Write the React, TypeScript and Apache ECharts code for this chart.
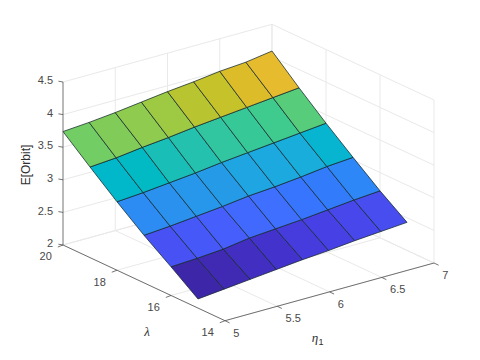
import React, { useEffect, useRef } from "react";
import * as echarts from "echarts";

// Data
const etaValues = [5, 5.25, 5.5, 5.75, 6, 6.25, 6.5, 6.75, 7];
const lambdaValues = [15, 16, 17, 18, 19, 20];
const orbitAtLambda15 = [2.14, 2.18, 2.22, 2.26, 2.3, 2.33, 2.37, 2.4, 2.43];
const orbitAtLambda16 = [2.44, 2.46, 2.49, 2.55, 2.58, 2.61, 2.65, 2.69, 2.72];
const orbitAtLambda17 = [2.73, 2.76, 2.8, 2.84, 2.89, 2.92, 2.96, 3.01, 3.04];
const orbitAtLambda18 = [3.05, 3.08, 3.12, 3.16, 3.21, 3.25, 3.29, 3.33, 3.37];
const orbitAtLambda19 = [3.39, 3.42, 3.47, 3.51, 3.56, 3.6, 3.64, 3.68, 3.72];
const orbitAtLambda20 = [3.74, 3.77, 3.81, 3.86, 3.91, 3.95, 4.0, 4.03, 4.09];
const orbitRows = [orbitAtLambda15, orbitAtLambda16, orbitAtLambda17, orbitAtLambda18, orbitAtLambda19, orbitAtLambda20];

const etaTicks = [5, 5.5, 6, 6.5, 7];
const etaTickLabels = ["5", "5.5", "6", "6.5", "7"];
const lambdaTicks = [14, 16, 18, 20];
const lambdaTickLabels = ["14", "16", "18", "20"];
const zTicks = [2, 2.5, 3, 3.5, 4, 4.5];
const zTickLabels = ["2", "2.5", "3", "3.5", "4", "4.5"];

// MATLAB parula colormap
const parula = [
  [0.2422,0.1504,0.6603],[0.2504,0.165,0.7076],[0.2578,0.1818,0.7511],[0.2647,0.1978,0.7952],
  [0.2706,0.2147,0.8364],[0.2751,0.2342,0.871],[0.2783,0.2559,0.8991],[0.2803,0.2782,0.9221],
  [0.2813,0.3006,0.9414],[0.281,0.3228,0.9579],[0.2795,0.3447,0.9717],[0.276,0.3667,0.9829],
  [0.2699,0.3892,0.9906],[0.2602,0.4123,0.9952],[0.244,0.4358,0.9988],[0.2206,0.4603,0.9973],
  [0.1963,0.4847,0.9892],[0.1834,0.5074,0.9798],[0.1786,0.5289,0.9682],[0.1764,0.5499,0.952],
  [0.1687,0.5703,0.9359],[0.154,0.5902,0.9218],[0.146,0.6091,0.9079],[0.138,0.6276,0.8973],
  [0.1248,0.6459,0.8883],[0.1113,0.6635,0.8763],[0.0952,0.6798,0.8598],[0.0689,0.6948,0.8394],
  [0.0297,0.7082,0.8163],[0.0036,0.7203,0.7917],[0.0067,0.7312,0.766],[0.0433,0.7411,0.7394],
  [0.0964,0.75,0.712],[0.1408,0.7584,0.6842],[0.1717,0.767,0.6554],[0.1938,0.7758,0.6251],
  [0.2161,0.7843,0.5923],[0.247,0.7918,0.5567],[0.2906,0.7973,0.5188],[0.3406,0.8008,0.4789],
  [0.3909,0.8029,0.4354],[0.4456,0.8024,0.3909],[0.5044,0.7993,0.348],[0.5616,0.7942,0.3045],
  [0.6174,0.7876,0.2612],[0.672,0.7793,0.2227],[0.7242,0.7698,0.191],[0.7738,0.7598,0.1646],
  [0.8203,0.7498,0.1535],[0.8634,0.7406,0.1596],[0.9035,0.733,0.1774],[0.9393,0.7288,0.21],
  [0.9728,0.7298,0.2394],[0.9956,0.7434,0.2371],[0.997,0.7659,0.2199],[0.9952,0.7893,0.2028],
  [0.9892,0.8136,0.1885],[0.9786,0.8386,0.1766],[0.9676,0.8639,0.1643],[0.961,0.889,0.1537],
  [0.9597,0.9135,0.1423],[0.9628,0.9373,0.1265],[0.9691,0.9606,0.1064],[0.9769,0.9839,0.0805],
];

const zMin = Math.min(...orbitRows.flat());
const zMax = Math.max(...orbitRows.flat());
const cmap = (z: number) => {
  const idx = Math.min(63, Math.floor(((z - zMin) / (zMax - zMin)) * 64));
  const [r, g, b] = parula[idx];
  return `rgb(${Math.round(r * 255)},${Math.round(g * 255)},${Math.round(b * 255)})`;
};

// Orthographic view of the 3D box onto the flat plane of the hidden axes
const project = (eta: number, lambda: number, z: number): [number, number] => [
  63 + ((eta - 5) / 2) * 209 + ((20 - lambda) / 6) * 162,
  245 - ((eta - 5) / 2) * 57.7 + ((20 - lambda) / 6) * 75.7 - (z - 2) * 65.2,
];

type P3 = [number, number, number];
const gridSegments: [P3, P3][] = [];
const axisSegments: [P3, P3][] = [
  [[5, 20, 2], [5, 20, 4.5]],
  [[5, 20, 2], [5, 14, 2]],
  [[5, 14, 2], [7, 14, 2]],
];
for (const z of zTicks) {
  gridSegments.push([[5, 20, z], [7, 20, z]], [[7, 20, z], [7, 14, z]]);
}
for (const e of etaTicks) {
  gridSegments.push([[e, 20, 2], [e, 14, 2]]);
  if (e > 5) gridSegments.push([[e, 20, 2], [e, 20, 4.5]]);
}
for (const l of lambdaTicks) {
  gridSegments.push([[5, l, 2], [7, l, 2]], [[7, l, 2], [7, l, 4.5]]);
}

const TICK_COLOR = "#484848";
const FONT = "'Liberation Sans', Arial, sans-serif";

type Tick = { at: P3; dx: number; dy: number };
const ticks: Tick[] = [
  ...zTicks.map((z) => ({ at: [5, 20, z] as P3, dx: -4.6, dy: -0.8 })),
  ...lambdaTicks.map((l) => ({ at: [5, l, 2] as P3, dx: -5.2, dy: 2 })),
  ...etaTicks.map((e) => ({ at: [e, 14, 2] as P3, dx: 4.6, dy: 2.2 })),
];

type Label = { at: P3; dx: number; dy: number; text: string; align: string; size: number; color: string; family: string; italic?: boolean; rotation?: number };
const labels: Label[] = [
  ...zTicks.map((z, i) => ({ at: [5, 20, z] as P3, dx: -10, dy: -1.8, text: zTickLabels[i], align: "right", size: 11, color: TICK_COLOR, family: FONT })),
  ...lambdaTicks.map((l, i) => ({ at: [5, l, 2] as P3, dx: -17.3, dy: 11.3, text: lambdaTickLabels[i], align: "center", size: 11, color: TICK_COLOR, family: FONT })),
  ...etaTicks.map((e, i) => ({ at: [e, 14, 2] as P3, dx: 8.3, dy: 12, text: etaTickLabels[i], align: "left", size: 11, color: TICK_COLOR, family: FONT })),
  { at: [5, 20, 2], dx: -37, dy: -80, text: "E[Orbit]", align: "center", size: 12, color: "#303030", family: FONT, rotation: Math.PI / 2 },
  { at: [5, 14, 2], dx: -78, dy: 11, text: "λ", align: "center", size: 13, color: "#303030", family: "'Liberation Serif', serif", italic: true },
  { at: [6, 14, 2], dx: -14.5, dy: 45.5, text: "η", align: "center", size: 13, color: "#303030", family: "'Liberation Serif', serif", italic: true },
  { at: [6, 14, 2], dx: -8.5, dy: 50.5, text: "1", align: "center", size: 9, color: "#303030", family: FONT },
];

const cells: number[][] = [];
for (let r = 0; r < lambdaValues.length - 1; r++) {
  for (let c = 0; c < etaValues.length - 1; c++) cells.push([r, c]);
}

export default function App() {
  const ref = useRef<HTMLDivElement>(null);
  useEffect(() => {
    if (!ref.current) return;
    const chart = echarts.init(ref.current, undefined, { renderer: "svg" });
    const segmentRender = (list: [P3, P3][], stroke: string, lineWidth: number) => (params: any, api: any) => {
      const [a, b] = list[params.dataIndex];
      const p = api.coord(project(a[0], a[1], a[2]));
      const q = api.coord(project(b[0], b[1], b[2]));
      return { type: "line", shape: { x1: p[0], y1: p[1], x2: q[0], y2: q[1] }, style: { stroke, lineWidth, fill: "none" } };
    };
    chart.setOption({
      animation: false,
      backgroundColor: "#ffffff",
      grid: { left: 0, top: 0, width: 480, height: 360 },
      xAxis: { type: "value", min: 0, max: 480, show: false },
      yAxis: { type: "value", min: 0, max: 360, inverse: true, show: false },
      series: [
        {
          type: "custom", silent: true, coordinateSystem: "cartesian2d", z: 1,
          data: gridSegments.map((_, i) => [i]),
          renderItem: segmentRender(gridSegments, "#e9e9e9", 1),
        },
        {
          type: "custom", silent: true, coordinateSystem: "cartesian2d", z: 2,
          data: cells,
          renderItem: (params: any, api: any) => {
            const [r, c] = cells[params.dataIndex];
            const corner = (rr: number, cc: number) =>
              api.coord(project(etaValues[cc], lambdaValues[rr], orbitRows[rr][cc]));
            return {
              type: "polygon",
              shape: { points: [corner(r, c), corner(r, c + 1), corner(r + 1, c + 1), corner(r + 1, c)] },
              style: { fill: cmap(orbitRows[r][c]), stroke: "#14282e", lineWidth: 0.75 },
            };
          },
        },
        {
          type: "custom", silent: true, coordinateSystem: "cartesian2d", z: 3,
          data: axisSegments.map((_, i) => [i]),
          renderItem: segmentRender(axisSegments, "#505050", 0.8),
        },
        {
          type: "custom", silent: true, coordinateSystem: "cartesian2d", z: 3,
          data: ticks.map((_, i) => [i]),
          renderItem: (params: any, api: any) => {
            const t = ticks[params.dataIndex];
            const p = api.coord(project(t.at[0], t.at[1], t.at[2]));
            return { type: "line", shape: { x1: p[0], y1: p[1], x2: p[0] + t.dx, y2: p[1] + t.dy }, style: { stroke: "#505050", lineWidth: 0.8 } };
          },
        },
        {
          type: "custom", silent: true, coordinateSystem: "cartesian2d", z: 4,
          data: labels.map((_, i) => [i]),
          renderItem: (params: any, api: any) => {
            const l = labels[params.dataIndex];
            const p = api.coord(project(l.at[0], l.at[1], l.at[2]));
            return {
              type: "text", x: p[0] + l.dx, y: p[1] + l.dy, rotation: l.rotation ?? 0,
              style: {
                text: l.text, fill: l.color, fontSize: l.size, fontFamily: l.family,
                fontStyle: l.italic ? "italic" : "normal", align: l.align, verticalAlign: "middle",
              },
            };
          },
        },
      ],
    });
    return () => chart.dispose();
  }, []);
  return <div ref={ref} style={{ position: "fixed", left: 0, top: 0, width: 480, height: 360 }} />;
}
